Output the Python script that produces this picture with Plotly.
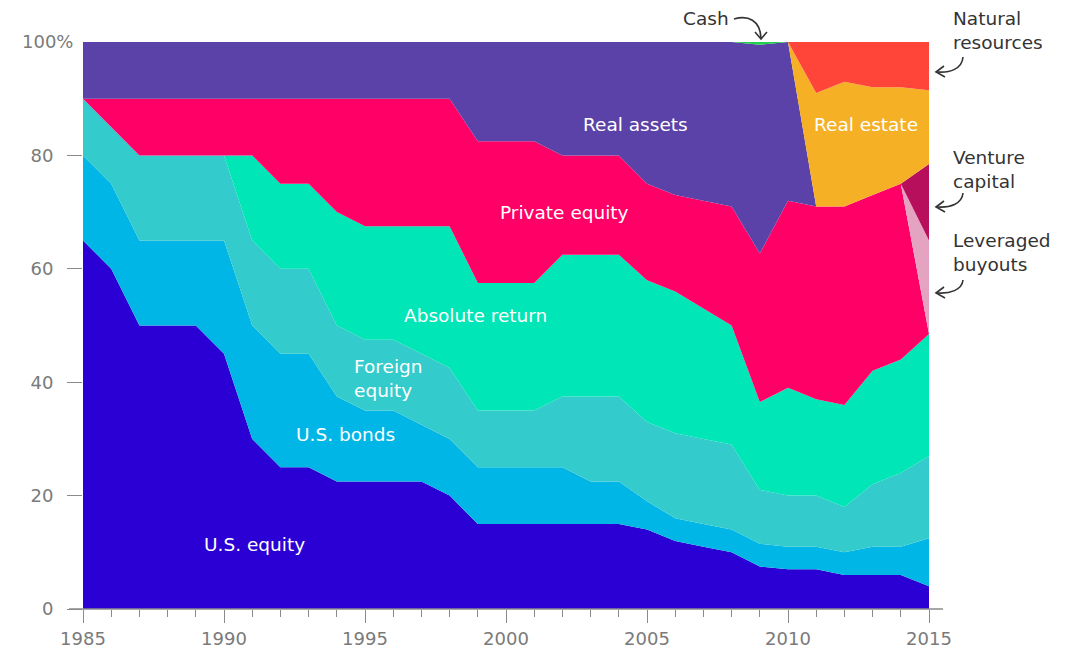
import plotly.graph_objects as go

years = list(range(1985, 2016))

us_equity = [65, 60, 50, 50, 50, 45, 30, 25, 25, 22.5, 22.5, 22.5, 22.5, 20, 15,
             15, 15, 15, 15, 15, 14, 12, 11, 10, 7.5, 7, 7, 6, 6, 6, 4]
us_bonds = [15, 15, 15, 15, 15, 20, 20, 20, 20, 15, 12.5, 12.5, 10, 10, 10,
            10, 10, 10, 7.5, 7.5, 5, 4, 4, 4, 4, 4, 4, 4, 5, 5, 8.5]
foreign_equity = [10, 10, 15, 15, 15, 15, 15, 15, 15, 12.5, 12.5, 12.5, 12.5, 12.5, 10,
                  10, 10, 12.5, 15, 15, 14, 15, 15, 15, 9.5, 9, 9, 8, 11, 13, 14.5]
absolute_return = [0, 0, 0, 0, 0, 0, 15, 15, 15, 20, 20, 20, 22.5, 25, 22.5,
                   22.5, 22.5, 25, 25, 25, 25, 25, 23, 21, 15.5, 19, 17, 18, 20, 20, 21.5]
private_equity = [0, 5, 10, 10, 10, 10, 10, 15, 15, 20, 22.5, 22.5, 22.5, 22.5, 25,
                  25, 25, 17.5, 17.5, 17.5, 17, 17, 19, 21, 26.2, 33, 34, 35, 31, 31, 0]
leveraged_buyouts = [0] * 30 + [16.5]
venture_capital = [0] * 30 + [13.5]
real_assets = [10, 10, 10, 10, 10, 10, 10, 10, 10, 10, 10, 10, 10, 10, 17.5,
               17.5, 17.5, 20, 20, 20, 25, 27, 28, 29, 36.8, 28, 0, 0, 0, 0, 0]
real_estate = [0] * 26 + [20, 22, 19, 17, 13]
cash = [0] * 24 + [0.5] + [0] * 6
natural_resources = [0] * 26 + [9, 7, 8, 8, 8.5]

x_tick_years = [1985, 1990, 1995, 2000, 2005, 2010, 2015]
y_tick_values = [0, 20, 40, 60, 80]
y_tick_labels = ["0", "20", "40", "60", "80"]
y_top_label = "100%"

series = [
    ("U.S. equity", us_equity, "#2a00d4"),
    ("U.S. bonds", us_bonds, "#00b6e6"),
    ("Foreign equity", foreign_equity, "#33cbcb"),
    ("Absolute return", absolute_return, "#00e6b6"),
    ("Private equity", private_equity, "#ff0066"),
    ("Leveraged buyouts", leveraged_buyouts, "#e4a3c1"),
    ("Venture capital", venture_capital, "#b80f5c"),
    ("Real assets", real_assets, "#5b42a8"),
    ("Real estate", real_estate, "#f5b025"),
    ("Cash", cash, "#1fd14a"),
    ("Natural resources", natural_resources, "#ff453a"),
]

fig = go.Figure()
for name, vals, col in series:
    fig.add_trace(go.Scatter(
        x=years, y=vals, name=name, stackgroup="one", mode="lines",
        line=dict(width=0, color=col), fillcolor=col, hoverinfo="skip",
    ))

W, H = 1072, 650
OFF = 8  # page body margin
# plot area in page pixels
L, R, T, B = 83, 929, 42, 609


def px(x):
    return (x - L) / (R - L)


def py(y):
    return (B - y) / (B - T)


FONT = "DejaVu Sans"
inner = [
    ("Real assets", 635, 124),
    ("Real estate", 866, 124),
    ("Private equity", 564, 212),
    ("Absolute return", 475, 315),
    ("U.S. bonds", 345, 434),
    ("U.S. equity", 254, 544),
]
annotations = []
for text, x, y in inner:
    annotations.append(dict(x=px(x), y=py(y), xref="paper", yref="paper", text=text,
                            showarrow=False, xanchor="center", yanchor="middle",
                            font=dict(family=FONT, size=18.5, color="white")))
annotations.append(dict(x=px(352), y=py(378), xref="paper", yref="paper",
                        text="Foreign<br>equity", showarrow=False, xanchor="left",
                        yanchor="middle", align="left",
                        font=dict(family=FONT, size=18.5, color="white")))

outer = [
    ("Natural<br>resources", 951, 30),
    ("Venture<br>capital", 951, 169),
    ("Leveraged<br>buyouts", 951, 252),
]
for text, x, y in outer:
    annotations.append(dict(x=px(x), y=py(y), xref="paper", yref="paper", text=text,
                            showarrow=False, xanchor="left", yanchor="middle", align="left",
                            font=dict(family=FONT, size=18.5, color="#333333")))
annotations.append(dict(x=px(731), y=py(19), xref="paper", yref="paper", text="Cash",
                        showarrow=False, xanchor="right", yanchor="middle",
                        font=dict(family=FONT, size=18.5, color="#333333")))
# top y label drawn without its tick, as in the original
annotations.append(dict(x=px(75), y=1, xref="paper", yref="paper", text=y_top_label,
                        showarrow=False, xanchor="right", yanchor="middle", yshift=1,
                        font=dict(family=FONT, size=18, color="#7a7a7a")))

shapes = []


def curve(p0, c1, c2, p1):
    conv = [(px(a), py(b)) for a, b in (p0, c1, c2, p1)]
    d = "M {0},{1} C {2},{3} {4},{5} {6},{7}".format(*[v for p in conv for v in p])
    return dict(type="path", xref="paper", yref="paper", path=d,
                line=dict(color="#333333", width=1.6))


def chevron(a, tip, b):
    conv = [(px(x), py(y)) for x, y in (a, tip, b)]
    d = "M {0},{1} L {2},{3} L {4},{5}".format(*[v for p in conv for v in p])
    return dict(type="path", xref="paper", yref="paper", path=d,
                line=dict(color="#333333", width=1.6))


for ys, ye in [(57, 72), (193, 207), (280, 293)]:
    shapes.append(curve((963, ys), (962, ye - 3), (950, ye + 1), (937, ye)))
    shapes.append(chevron((944, ye - 6), (936, ye), (945, ye + 5)))
shapes.append(curve((734, 19), (748, 15), (760, 20), (761, 38)))
shapes.append(chevron((755, 32), (761, 39), (767, 32)))
shapes.append(dict(type="line", xref="paper", yref="paper", x0=px(69), x1=px(943),
                   y0=0, y1=0, line=dict(color="#8a8a8a", width=1.3)))

tickfont = dict(family=FONT, size=18, color="#7a7a7a")
fig.update_layout(
    width=W, height=H,
    margin=dict(l=L - OFF, r=W - (R - OFF), t=T - OFF, b=H - (B - OFF)),
    paper_bgcolor="white", plot_bgcolor="white",
    showlegend=False,
    annotations=annotations,
    shapes=shapes,
    xaxis=dict(range=[1985, 2015], tickmode="array",
               tickvals=x_tick_years, ticktext=[str(v) for v in x_tick_years],
               ticks="outside", ticklen=13, tickwidth=1.3, tickcolor="#8a8a8a",
               minor=dict(dtick=1, tick0=1985, ticks="outside", ticklen=7,
                          tickwidth=1.3, tickcolor="#8a8a8a", showgrid=False),
               showgrid=False, zeroline=False, showline=False, automargin=False,
               tickfont=tickfont),
    yaxis=dict(range=[0, 100], tickmode="array",
               tickvals=y_tick_values, ticktext=y_tick_labels,
               ticks="outside", ticklen=15, tickwidth=1.3, tickcolor="#8a8a8a",
               ticklabelstandoff=10,
               showgrid=False, zeroline=False, showline=False, automargin=False,
               tickfont=tickfont),
)

fig.write_html("out.html")
